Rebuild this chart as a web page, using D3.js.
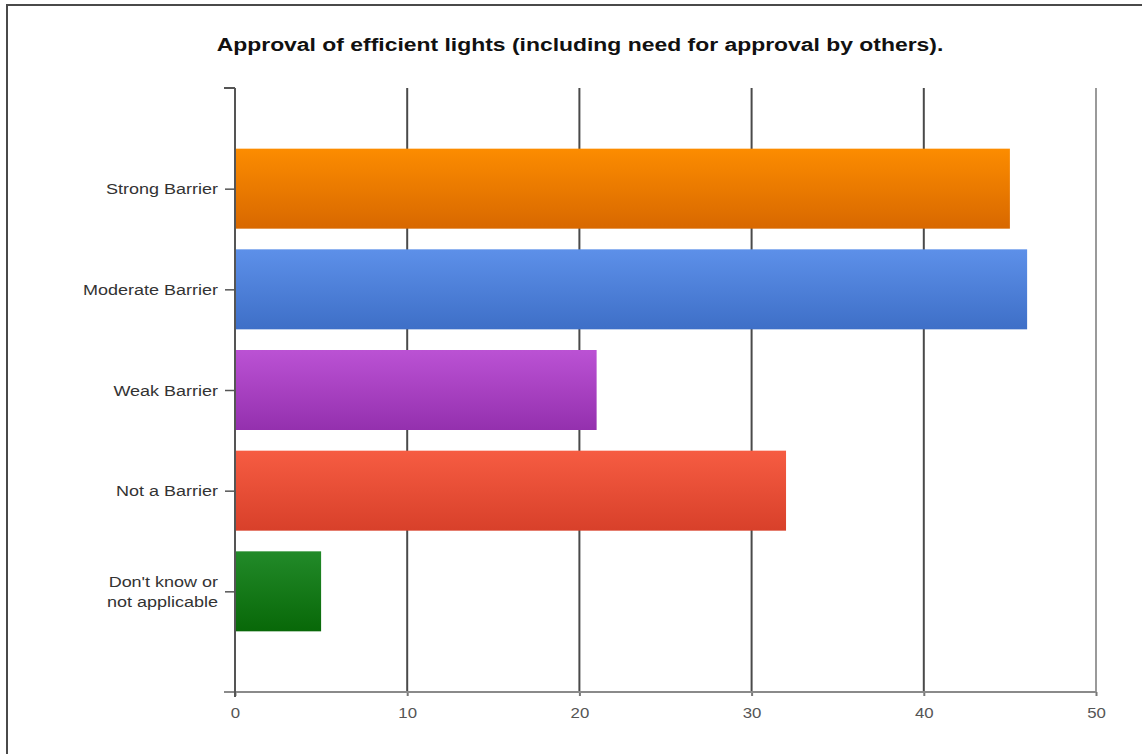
<!DOCTYPE html>
<html>
<head>
<meta charset="utf-8">
<script src="https://cdn.jsdelivr.net/npm/d3@7"></script>
<style>
  html, body { margin: 0; padding: 0; background: #fff; }
  svg { display: block; }
</style>
</head>
<body>
<svg id="chart" width="1142" height="754"></svg>
<script>
const categories = ["Strong Barrier", "Moderate Barrier", "Weak Barrier", "Not a Barrier", "Don't know or\nnot applicable"];
const values = [45, 46, 21, 32, 5];
const xTicks = [0, 10, 20, 30, 40, 50];
const barColors = [
  ["#fc8c00", "#d86800"],
  ["#5d90e9", "#3e6fc7"],
  ["#bb52d4", "#9430ae"],
  ["#f65c42", "#d8402a"],
  ["#228a29", "#086808"]
];
const title = "Approval of efficient lights (including need for approval by others).";

(function () {
const svg = d3.select("#chart");
const font = "'Liberation Sans', Arial, sans-serif";
const stretch = 1.2; // text is set slightly wide

// outer frame (right and bottom edges run past the page)
svg.append("rect")
  .attr("x", 7).attr("y", 5)
  .attr("width", 1160).attr("height", 780)
  .attr("fill", "none").attr("stroke", "#4a4a4a").attr("stroke-width", 2);

svg.append("text")
  .attr("transform", "translate(580,51) scale(1.31,1)")
  .attr("text-anchor", "middle")
  .attr("font-family", font).attr("font-weight", "bold").attr("font-size", 17.5)
  .attr("fill", "#111")
  .text(title);

const plotL = 235, plotR = 1096, plotT = 88, plotB = 692;

const x = d3.scaleLinear().domain([0, 50]).range([plotL, plotR]);
const y = d3.scalePoint().domain(categories).range([plotT, plotB]).padding(1);
const barH = 80;

const defs = svg.append("defs");
barColors.forEach((c, i) => {
  const g = defs.append("linearGradient").attr("id", "grad" + i)
    .attr("x1", 0).attr("y1", 0).attr("x2", 0).attr("y2", 1);
  g.append("stop").attr("offset", "0%").attr("stop-color", c[0]);
  g.append("stop").attr("offset", "100%").attr("stop-color", c[1]);
});

// vertical gridlines
svg.append("g").selectAll("line").data(xTicks.slice(1)).join("line")
  .attr("x1", d => x(d)).attr("x2", d => x(d))
  .attr("y1", plotT).attr("y2", plotB)
  .attr("stroke", d => d === 50 ? "#9a9a9a" : "#4a4a4a")
  .attr("stroke-width", 2);

// bars
svg.append("g").selectAll("rect").data(categories).join("rect")
  .attr("x", x(0))
  .attr("y", d => y(d) - barH / 2)
  .attr("width", (d, i) => x(values[i]) - x(0))
  .attr("height", barH)
  .attr("fill", (d, i) => `url(#grad${i})`);

// x axis
const xAxis = svg.append("g").attr("transform", `translate(0,${plotB})`)
  .call(d3.axisBottom(x).tickValues(xTicks).tickSize(4).tickFormat(""));
xAxis.select(".domain").remove();
xAxis.selectAll(".tick line").attr("stroke", "#777").attr("stroke-width", 2);
xAxis.selectAll(".tick").append("text")
  .attr("transform", `translate(0,26) scale(${stretch},1)`)
  .attr("text-anchor", "middle")
  .attr("font-family", font).attr("font-size", 14).attr("fill", "#555")
  .text(d => d);
svg.append("line")
  .attr("x1", plotL - 11).attr("x2", plotR)
  .attr("y1", plotB).attr("y2", plotB)
  .attr("stroke", "#8a8a8a").attr("stroke-width", 2);

// y axis
svg.append("line")
  .attr("x1", plotL).attr("x2", plotL)
  .attr("y1", plotT).attr("y2", plotB + 5)
  .attr("stroke", "#555").attr("stroke-width", 2);
svg.append("line")
  .attr("x1", plotL - 11).attr("x2", plotL)
  .attr("y1", plotT).attr("y2", plotT)
  .attr("stroke", "#555").attr("stroke-width", 2);

const yAxis = svg.append("g").attr("transform", `translate(${plotL},0)`)
  .call(d3.axisLeft(y).tickSize(10).tickFormat(""));
yAxis.select(".domain").remove();
yAxis.selectAll(".tick line").attr("stroke", "#555").attr("stroke-width", 1.5);

yAxis.selectAll(".tick").each(function (d) {
  const lines = d.split("\n");
  const t = d3.select(this).append("text")
    .attr("transform", `translate(-17,0) scale(${stretch},1)`)
    .attr("text-anchor", "end")
    .attr("font-family", font).attr("font-size", 15).attr("fill", "#333");
  lines.forEach((ln, j) => {
    t.append("tspan").attr("x", 0)
      .attr("y", (j - (lines.length - 1) / 2) * 20)
      .attr("dy", "0.35em")
      .text(ln);
  });
});
})();
</script>
</body>
</html>
